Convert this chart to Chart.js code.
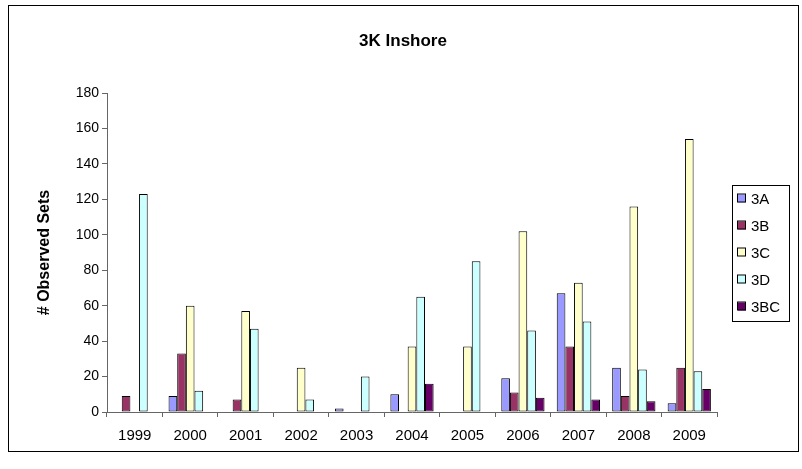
<!DOCTYPE html>
<html>
<head>
<meta charset="utf-8">
<script src="https://cdn.jsdelivr.net/npm/chart.js@4"></script>
<style>
  html, body { margin: 0; padding: 0; background: #fff; }
  #wrap { width: 802px; height: 469px; }
</style>
</head>
<body>
<div id="wrap"><canvas id="graph_3k"></canvas></div>
<script>
/* data */
var years = ['1999', '2000', '2001', '2002', '2003', '2004', '2005', '2006', '2007', '2008', '2009']
var sets_3a  = [null, 9, null, null, 2, 10, null, 19, 67, 25, 5]
var sets_3b  = [9, 33, 7, null, null, null, null, 11, 37, 9, 25]
var sets_3c  = [null, 60, 57, 25, null, 37, 37, 102, 73, 116, 154]
var sets_3d  = [123, 12, 47, 7, 20, 65, 85, 46, 51, 24, 23]
var sets_3bc = [null, null, null, null, null, 16, null, 8, 7, 6, 13]
var y_ticks  = [0, 20, 40, 60, 80, 100, 120, 140, 160, 180]

var font_name = '"Liberation Sans", Arial, sans-serif'

function serie(label, data, color) {
  return {
    label: label,
    data: data,
    backgroundColor: color,
    borderColor: '#000',
    borderWidth: 1,
    borderSkipped: false
  }
}

// frame, title and boxed legend drawn like the Excel original
var excelLook = {
  id: 'excelLook',
  beforeDraw: function (chart) {
    var c = chart.ctx
    c.save()
    c.fillStyle = '#fff'
    c.fillRect(0, 0, chart.width, chart.height)
    c.strokeStyle = '#000'
    c.lineWidth = 1
    c.strokeRect(8.5, 5.5, 790, 446)
    c.restore()
  },
  afterDraw: function (chart) {
    var c = chart.ctx
    c.save()
    c.fillStyle = '#000'
    c.textAlign = 'center'
    c.textBaseline = 'middle'
    c.font = 'bold 17px ' + font_name
    c.fillText('3K Inshore', 403, 41)

    // legend
    c.strokeStyle = '#000'
    c.lineWidth = 1
    c.strokeRect(732.5, 185.5, 57, 136)
    c.textAlign = 'left'
    c.font = '15px ' + font_name
    chart.data.datasets.forEach(function (ds, i) {
      var y = 198.5 + i * 27
      c.fillStyle = ds.backgroundColor
      c.fillRect(738, y - 4, 8, 8)
      c.strokeRect(737.5, y - 4.5, 8, 8)
      c.fillStyle = '#000'
      c.fillText(ds.label, 751, y + 1)
    })
    c.restore()
  }
}

var ctx_3k = document.getElementById('graph_3k').getContext('2d')

var config_3k = {
  type: 'bar',
  data: {
    labels: years,
    datasets: [
      serie('3A', sets_3a, '#9999FF'),
      serie('3B', sets_3b, '#993366'),
      serie('3C', sets_3c, '#FFFFCC'),
      serie('3D', sets_3d, '#CCFFFF'),
      serie('3BC', sets_3bc, '#660066')
    ]
  },
  options: {
    responsive: true,
    maintainAspectRatio: false,
    animation: false,
    layout: { padding: { left: 8, right: 85, top: 93, bottom: 0 } },
    datasets: { bar: { categoryPercentage: 0.78, barPercentage: 1.0 } },
    plugins: {
      legend: { display: false },
      title: { display: false },
      tooltip: { enabled: false }
    },
    scales: {
      x: {
        grid: { offset: true, drawOnChartArea: false, drawTicks: true, tickLength: 5, color: '#666' },
        border: { color: '#666', width: 1 },
        ticks: { color: '#000', font: { family: font_name, size: 15 }, padding: 10, maxRotation: 0 },
        afterFit: function (s) { s.height = 57 }
      },
      y: {
        min: 0,
        max: 180,
        afterBuildTicks: function (s) { s.ticks = y_ticks.map(function (v) { return { value: v } }) },
        grid: { drawOnChartArea: false, drawTicks: true, tickLength: 5, color: '#666' },
        border: { color: '#666', width: 1 },
        ticks: { color: '#000', font: { family: font_name, size: 14 }, padding: 3 },
        title: {
          display: true,
          text: '# Observed Sets',
          color: '#000',
          font: { family: font_name, size: 16, weight: 'bold' },
          padding: { top: 27, bottom: 0 }
        },
        afterFit: function (s) { s.width = 99 }
      }
    }
  },
  plugins: [excelLook]
}

var graph_3k = new Chart(ctx_3k, config_3k)
</script>
</body>
</html>
